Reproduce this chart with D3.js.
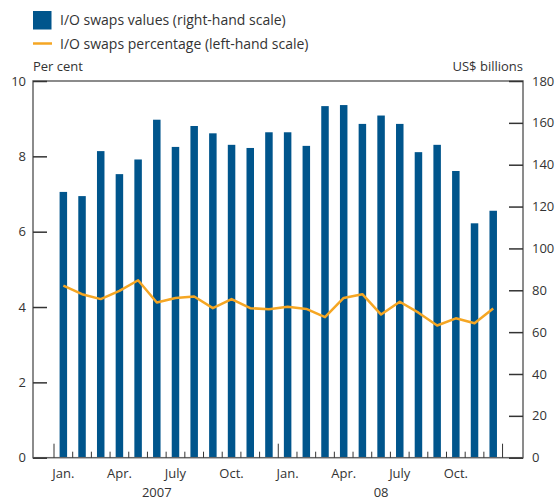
<!DOCTYPE html>
<html><head><meta charset="utf-8">
<script src="https://cdn.jsdelivr.net/npm/d3@7"></script>
<style>body{margin:0;background:#fff}svg{display:block}text{font-family:"Open Sans",sans-serif;fill:#333}</style>
</head><body><svg id="c" width="559" height="501"></svg>
<script>
const months = ["Jan.","Feb.","Mar.","Apr.","May","June","July","Aug.","Sep.","Oct.","Nov.","Dec.",
                "Jan.","Feb.","Mar.","Apr.","May","June","July","Aug.","Sep.","Oct.","Nov.","Dec."];
const periods = d3.range(24);
const swapValues = [127,125,146.5,135.5,142.5,161.5,148.5,158.5,155,149.5,148,155.5,
                    155.5,149,168,168.5,159.5,163.5,159.5,146,149.5,137,112,118];
const swapPct = [4.57,4.34,4.21,4.43,4.71,4.12,4.24,4.28,3.97,4.21,3.97,3.94,
                 4.01,3.95,3.73,4.24,4.34,3.80,4.14,3.85,3.51,3.70,3.57,3.96];
const leftTicks = [0,2,4,6,8,10];
const rightTicks = [0,20,40,60,80,100,120,140,160,180];
const monthLabelIdx = [0,3,6,9,12,15,18,21];
const yearLabels = [{i:5,t:"2007"},{i:17,t:"08"}];

const svg = d3.select("#c");
const L = 33, R = 523, T = 81, B = 457.7;
const x = d3.scaleBand().domain(periods).range([54, 54 + 24*18.69]).paddingInner(0.6).paddingOuter(0.3);
const xs = d3.scaleLinear().domain([0,24]).range([54, 54 + 24*18.69]);
const yL = d3.scaleLinear().domain([0,10]).range([B,T]);
const yR = d3.scaleLinear().domain([0,180]).range([B,T]);
const axisCol = "#666";

// bars
svg.append("g").selectAll("rect").data(periods).join("rect")
  .attr("x", i => xs(i + 0.5) - 3.75).attr("width", 7.5)
  .attr("y", i => yR(swapValues[i])).attr("height", i => B - yR(swapValues[i]))
  .attr("fill", "#00558C");

// line
svg.append("path").datum(periods)
  .attr("d", d3.line().x(i => xs(i + 0.5)).y(i => yL(swapPct[i])))
  .attr("fill","none").attr("stroke","#F5A623").attr("stroke-width",2.5).attr("stroke-linejoin","round");

// frame
svg.append("rect").attr("x",L).attr("y",T).attr("width",R-L).attr("height",B-T)
  .attr("fill","none").attr("stroke",axisCol).attr("stroke-width",1.5);

// left axis
const gl = svg.append("g").attr("transform",`translate(${L},0)`)
  .call(d3.axisRight(yL).tickValues(leftTicks).tickSize(14).tickFormat(""));
gl.select(".domain").remove();
gl.selectAll("line").attr("stroke","#333").attr("stroke-width",1.5);
svg.append("g").selectAll("text").data(leftTicks).join("text")
  .attr("x", 26).attr("y", d => yL(d)).attr("dy","0.35em").attr("text-anchor","end")
  .attr("font-size",13).text(d => d);

// right axis
const gr = svg.append("g").attr("transform",`translate(${R},0)`)
  .call(d3.axisLeft(yR).tickValues(rightTicks).tickSize(14).tickFormat(""));
gr.select(".domain").remove();
gr.selectAll("line").attr("stroke","#333").attr("stroke-width",1.5);
svg.append("g").selectAll("text").data(rightTicks).join("text")
  .attr("x", 532).attr("y", d => yR(d)).attr("dy","0.35em").attr("text-anchor","start")
  .attr("font-size",13).text(d => d);

// bottom ticks
svg.append("g").selectAll("line").data(d3.range(25)).join("line")
  .attr("x1", i => xs(i)).attr("x2", i => xs(i))
  .attr("y1", B).attr("y2", i => (i % 12 === 0) ? B - 14 : B - 6)
  .attr("stroke","#333").attr("stroke-width",1);

svg.append("g").selectAll("text").data(monthLabelIdx).join("text")
  .attr("x", i => xs(i + 0.5)).attr("y", 478).attr("text-anchor","middle")
  .attr("font-size",13).text(i => months[i]);
svg.append("g").selectAll("text").data(yearLabels).join("text")
  .attr("x", d => xs(d.i + 0.5)).attr("y", 497).attr("text-anchor","middle")
  .attr("font-size",13).text(d => d.t);

// axis titles
svg.append("text").attr("x",33).attr("y",71).attr("font-size",13).text("Per cent");
svg.append("text").attr("x",523).attr("y",71).attr("text-anchor","end").attr("font-size",13).text("US$ billions");

// legend
svg.append("rect").attr("x",33).attr("y",11).attr("width",18.5).attr("height",18.5).attr("fill","#00558C");
svg.append("text").attr("x",60).attr("y",25).attr("font-size",14).text("I/O swaps values (right-hand scale)");
svg.append("line").attr("x1",33).attr("x2",52).attr("y1",43.5).attr("y2",43.5).attr("stroke","#F5A623").attr("stroke-width",2.5);
svg.append("text").attr("x",60).attr("y",48.5).attr("font-size",14).text("I/O swaps percentage (left-hand scale)");
</script></body></html>
